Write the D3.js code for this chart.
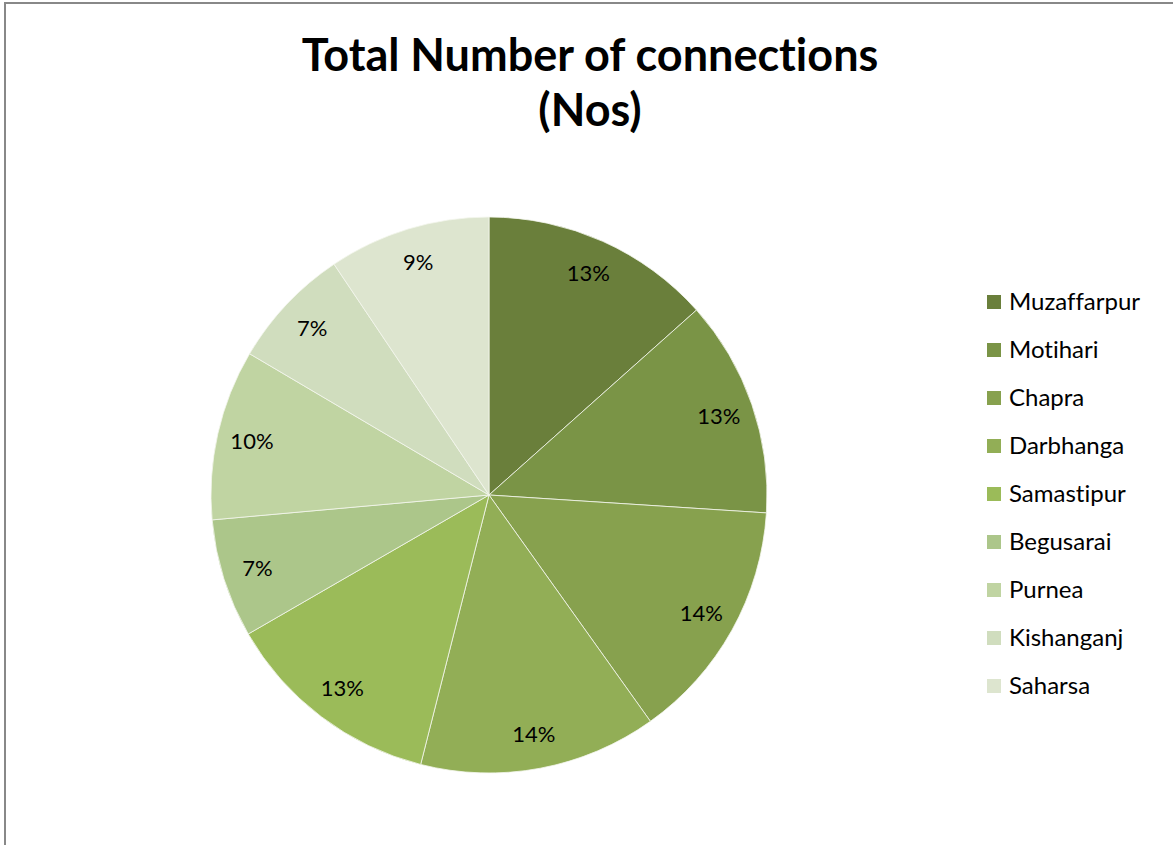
<!DOCTYPE html>
<html><head><meta charset="utf-8">
<script src="https://cdn.jsdelivr.net/npm/d3@7"></script>
<style>body{margin:0;background:#fff}svg{display:block}text{font-variant-ligatures:none;font-feature-settings:"liga" 0,"clig" 0}</style>
</head><body>
<svg id="c" width="1173" height="845"></svg>
<script>
const categories = ["Muzaffarpur","Motihari","Chapra","Darbhanga","Samastipur","Begusarai","Purnea","Kishanganj","Saharsa"];
const values = [13.4,12.6,14.1,13.8,12.7,6.9,9.9,7.1,9.4];
const colors = ["#6a7f3b","#7a9446","#87a14e","#92ae56","#9bbb59","#acc68a","#c0d4a2","#d0ddbe","#dde5cf"];
const titleLines = ["Total Number of connections","(Nos)"];

const svg = d3.select("#c");
const font = "Lato, 'Noto Sans', sans-serif";
svg.append("path").attr("d","M5,845 V3 H1173").attr("fill","none").attr("stroke","#888").attr("stroke-width",2);

svg.selectAll("text.title").data(titleLines).join("text")
  .attr("x",590).attr("y",(d,i)=>71+i*55).attr("text-anchor","middle")
  .attr("font-family",font).attr("font-weight","bold").attr("font-size",45).attr("fill","#000").text(d=>d);

const cx=489, cy=495, R=278;
const total = d3.sum(values);
const pie = d3.pie().sort(null).value(d=>d)(values);
const arc = d3.arc().innerRadius(0).outerRadius(R);
const labelArc = d3.arc().innerRadius(243).outerRadius(243);
const g = svg.append("g").attr("transform",`translate(${cx},${cy})`);
g.selectAll("path").data(pie).join("path").attr("d",arc)
  .attr("fill",(d,i)=>colors[i]).attr("stroke","#f4f6ee").attr("stroke-width",0.8);
g.selectAll("text").data(pie).join("text")
  .attr("transform",d=>`translate(${labelArc.centroid(d)})`)
  .attr("text-anchor","middle").attr("dy","0.35em")
  .attr("font-family",font).attr("font-size",22).attr("fill","#000")
  .text(d=>Math.round(d.value/total*100)+"%");

const lg = svg.append("g");
const rows = lg.selectAll("g").data(categories).join("g")
  .attr("transform",(d,i)=>`translate(987,${302+i*48})`);
rows.append("rect").attr("x",0).attr("y",-7).attr("width",14).attr("height",14).attr("fill",(d,i)=>colors[i]);
rows.append("text").attr("x",22).attr("dy","0.35em").attr("font-family",font).attr("font-size",24).attr("fill","#000").text(d=>d);
</script>
</body></html>
